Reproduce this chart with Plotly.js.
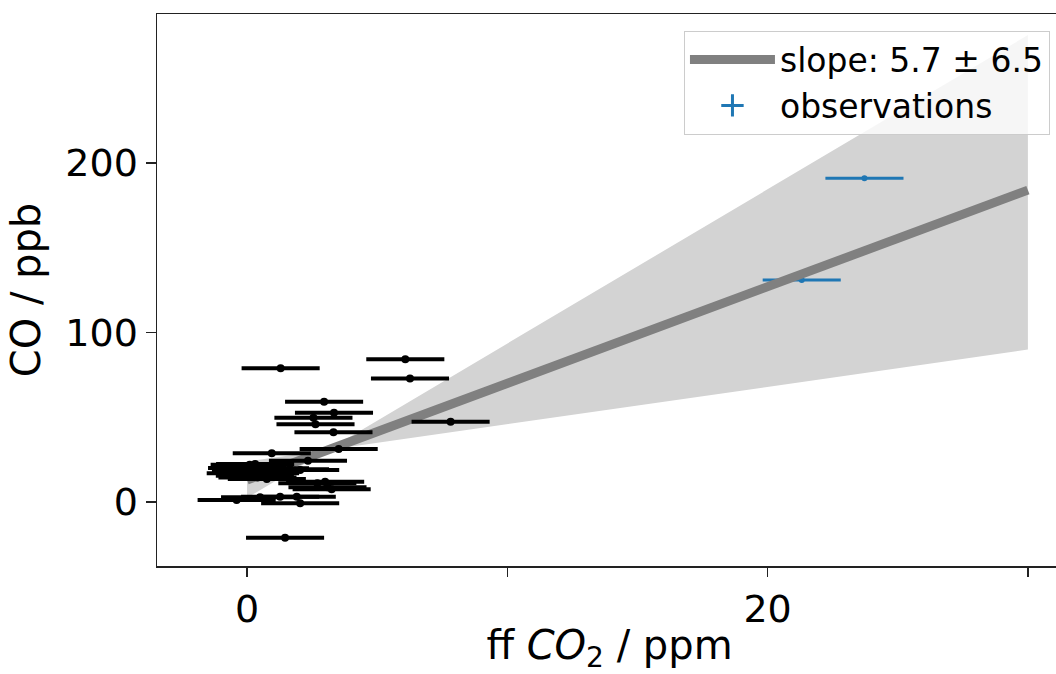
<!DOCTYPE html>
<html>
<head>
<meta charset="utf-8">
<script src="https://cdn.plot.ly/plotly-3.0.1.min.js"></script>
<style>
html,body{margin:0;padding:0;overflow:hidden;background:#fff;}
#chart{width:1070px;height:674px;}
</style>
</head>
<body>
<div id="chart"></div>
<script>
// black observations (ff CO2 ppm, CO ppb)
const blackX = [1.29, 6.08, 6.26, 2.96, 3.34, 2.55, 2.63, 3.32, 7.82, 0.95, 3.52, 2.34,
  0.31, 0.88, 1.65, 0.5, 0.76, 3.0, 3.25, -0.4, 0.5, 1.27, 1.91, 2.04, 1.46,
  0.1, 0.0, 0.15, -0.05, 0.3, 0.4, 3.09, 2.7, 2.04];
const blackY = [78.9, 84.2, 72.8, 59.2, 52.7, 49.7, 45.8, 41.1, 47.4, 28.7, 31.3, 24.4,
  22.4, 19.9, 19.3, 16.9, 13.6, 12.0, 7.5, 1.2, 2.8, 3.1, 3.1, -0.8, -21.1,
  22.0, 20.0, 18.0, 17.0, 15.5, 14.5, 8.7, 11.0, 18.9];
const blackErr = 1.5;

// blue observations
const blueX = [23.72, 21.31];
const blueY = [191, 131];
const blueErr = 1.5;

// fit line and uncertainty band
const fitX = [0, 30];
const fitY = [13, 184];
const bandX = [0, 30];
const bandA = [2.5, 275.5];
const bandB = [23.9, 89.9];
const fitLabel = 'slope: 5.7 ± 6.5';

// axis ticks
const xMajorTicks = [0, 20];
const xMinorTicks = [10, 30];
const yTicks = [0, 100, 200];

const traces = [
  {x: bandX, y: bandA, mode: 'lines', line: {width: 0, color: 'rgba(0,0,0,0)'},
   showlegend: false, hoverinfo: 'skip'},
  {x: bandX, y: bandB, mode: 'lines', line: {width: 0, color: 'rgba(0,0,0,0)'},
   fill: 'tonexty', fillcolor: '#d3d3d3', showlegend: false, hoverinfo: 'skip'},
  {x: blueX, y: blueY, mode: 'markers', marker: {color: '#1f77b4', size: 6},
   error_x: {type: 'constant', value: blueErr, color: '#1f77b4', thickness: 3, width: 0},
   showlegend: false},
  {x: fitX, y: fitY, mode: 'lines', line: {color: '#808080', width: 9}, name: fitLabel},
  {x: [null], y: [null], mode: 'markers', name: 'observations',
   marker: {symbol: 'cross-thin-open', size: 16, color: '#1f77b4', line: {color: '#1f77b4', width: 3}}},
  {x: blackX, y: blackY, mode: 'markers', marker: {color: '#000000', size: 8},
   error_x: {type: 'constant', value: blackErr, color: '#000000', thickness: 4, width: 0},
   showlegend: false}
];

const tickFont = {family: 'DejaVu Sans, sans-serif', size: 38, color: '#000'};
const titleFont = {family: 'DejaVu Sans, sans-serif', size: 40, color: '#000'};

const layout = {
  width: 1070, height: 674,
  margin: {l: 157, r: 8, t: 14, b: 108},
  paper_bgcolor: '#fff', plot_bgcolor: '#fff',
  font: {family: 'DejaVu Sans, sans-serif', size: 34, color: '#000'},
  showlegend: true,
  legend: {
    x: 0.9867, y: 0.97, xanchor: 'right', yanchor: 'top',
    traceorder: 'normal',
    bgcolor: 'rgba(255,255,255,0.8)', bordercolor: '#cccccc', borderwidth: 1,
    font: {family: 'DejaVu Sans, sans-serif', size: 33, color: '#000'},
    itemwidth: 85
  },
  xaxis: {
    range: [-3.46, 31.31], showgrid: false, zeroline: false,
    showline: true, linecolor: '#222', linewidth: 1.5, mirror: true,
    ticks: 'outside', ticklen: 9, tickwidth: 1.5, tickcolor: '#222',
    tickvals: xMajorTicks, ticktext: xMajorTicks.map(String),
    ticklabelstandoff: 0,
    minor: {tickvals: xMinorTicks, ticks: 'outside', ticklen: 9, tickwidth: 1.5, tickcolor: '#222', showgrid: false},
    tickfont: tickFont,
    title: {text: 'ff <i>CO</i><sub>2</sub> / ppm', font: titleFont, standoff: 12}
  },
  yaxis: {
    range: [-37.76, 287.9], showgrid: false, zeroline: false,
    showline: true, linecolor: '#222', linewidth: 1.5, mirror: true,
    ticks: 'outside', ticklen: 10, tickwidth: 1.5, tickcolor: '#222',
    tickvals: yTicks, ticktext: yTicks.map(String),
    tickfont: tickFont,
    title: {text: 'CO / ppb', font: titleFont, standoff: 12}
  }
};

Plotly.newPlot('chart', traces, layout, {displayModeBar: false, staticPlot: true});
</script>
</body>
</html>
